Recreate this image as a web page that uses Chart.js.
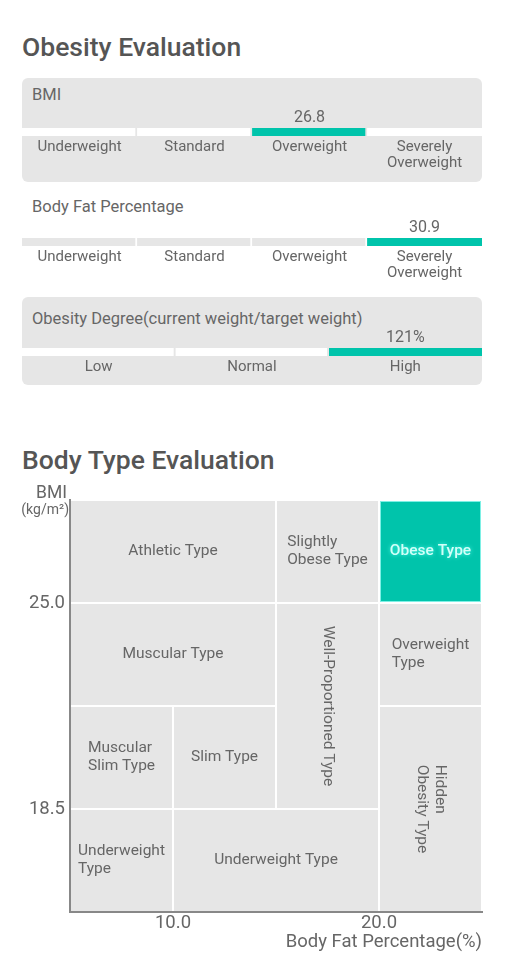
<!DOCTYPE html>
<html>
<head>
<meta charset="utf-8">
<script src="https://cdn.jsdelivr.net/npm/chart.js@4.4.1/dist/chart.umd.min.js"></script>
<style>
  body { margin: 0; background: #fff; font-family: Roboto, sans-serif; color: #666; }
  #page { position: relative; width: 530px; height: 977px; overflow: hidden; }
  h2 { position: absolute; left: 22px; margin: 0; font-size: 26.5px; font-weight: 500; color: #555; line-height: 30px; }
  .box { position: absolute; left: 22px; width: 460px; border-radius: 6px; background: #e6e6e6; }
  .name { position: absolute; left: 32px; font-size: 16.5px; line-height: 18px; color: #666; }
  canvas { position: absolute; left: 22px; }
  #typeChart { left: 0; }
</style>
</head>
<body>
<div id="page">
  <h2 style="top:32px">Obesity Evaluation</h2>

  <div class="box" style="top:78px;height:104px"></div>
  <div class="name" style="top:86px">BMI</div>
  <canvas id="bmiBar" width="460" height="68" style="top:108px"></canvas>

  <div class="name" style="top:198px">Body Fat Percentage</div>
  <canvas id="fatBar" width="460" height="68" style="top:218px"></canvas>

  <div class="box" style="top:297px;height:88px"></div>
  <div class="name" style="top:310px">Obesity Degree(current weight/target weight)</div>
  <canvas id="degreeBar" width="460" height="50" style="top:328px"></canvas>

  <h2 style="top:445px">Body Type Evaluation</h2>
  <canvas id="typeChart" width="530" height="492" style="top:470px"></canvas>
</div>

<script>
// measured values
const bmiValue = 26.8
const fatValue = 30.9
const degreeValue = 121

// level names and where each level starts
const bmiLevels = ['Underweight', 'Standard', 'Overweight', 'Severely\nOverweight']
const bmiLimits = [18.5, 25, 30]
const fatLevels = ['Underweight', 'Standard', 'Overweight', 'Severely\nOverweight']
const fatLimits = [10, 20, 25]
const degreeLevels = ['Low', 'Normal', 'High']
const degreeLimits = [90, 110]

// body type grid
const fatTicks = [10, 20]
const bmiTicks = [18.5, 25]
const bodyTypes = ['Athletic Type', 'Slightly\nObese Type', 'Obese Type', 'Muscular Type', 'Well-Proportioned Type',
  'Overweight\nType', 'Muscular\nSlim Type', 'Slim Type', 'Hidden\nObesity Type', 'Underweight\nType', 'Underweight Type']
const typeFatFrom = [5, 15, 20, 5, 15, 20, 5, 10, 20, 5, 10]
const typeFatTo = [15, 20, 25, 15, 20, 25, 10, 15, 25, 10, 20]
const typeBmiFrom = [25, 25, 25, 21.75, 18.5, 21.75, 18.5, 18.5, 15.25, 15.25, 15.25]
const typeBmiTo = [28.25, 28.25, 28.25, 25, 25, 25, 21.75, 21.75, 21.75, 18.5, 18.5]
const currentType = 'Obese Type'

const TEAL = '#00c4ab'
const GRAY = '#e6e6e6'
const TEXT = '#666'
const FONT = 'Roboto, sans-serif'
const verticalTypes = ['Well-Proportioned Type', 'Hidden\nObesity Type']

function levelOf(value, limits) {
    return limits.filter(l => value >= l).length
}

// text over the highlighted segment
const valueLabel = {
    id: 'valueLabel',
    afterDraw(chart, args, opts) {
        const ctx = chart.ctx
        const x = chart.scales.x.getPixelForValue(opts.level + 0.5)
        ctx.save()
        ctx.font = '16px ' + FONT
        ctx.fillStyle = TEXT
        ctx.textAlign = 'center'
        ctx.textBaseline = 'middle'
        ctx.fillText(opts.text, x, chart.chartArea.top - 10)
        ctx.restore()
    }
}

function drawLevelBar(id, levels, level, text, track, gap, axisHeight) {
    const datasets = levels.map((n, i) => ({
        data: [1],
        backgroundColor: i === level ? TEAL : track,
        borderColor: gap,
        borderWidth: i < levels.length - 1 ? {top: 0, right: 2, bottom: 0, left: 0} : 0,
        borderSkipped: false,
        barPercentage: 1,
        categoryPercentage: 1
    }))
    new Chart(document.getElementById(id), {
        type: 'bar',
        data: {labels: [''], datasets: datasets},
        options: {
            indexAxis: 'y',
            responsive: false,
            animation: false,
            layout: {padding: {top: 20, left: 0, right: 0, bottom: 0}},
            plugins: {legend: {display: false}, tooltip: {enabled: false}, valueLabel: {level: level, text: text}},
            scales: {
                y: {display: false, stacked: true},
                x: {
                    stacked: true, min: 0, max: levels.length,
                    afterBuildTicks: s => { s.ticks = levels.map((_, i) => ({value: i + 0.5})) },
                    afterFit: s => { s.height = axisHeight },
                    grid: {display: false, drawTicks: false},
                    border: {display: false},
                    ticks: {
                        padding: 3, color: TEXT, maxRotation: 0, autoSkip: false,
                        font: {family: FONT, size: 15, lineHeight: 1.07},
                        callback: v => levels[Math.floor(v)].split('\n')
                    }
                }
            }
        },
        plugins: [valueLabel]
    })
}

drawLevelBar('bmiBar', bmiLevels, levelOf(bmiValue, bmiLimits), bmiValue.toFixed(1), '#fff', GRAY, 40)
drawLevelBar('fatBar', fatLevels, levelOf(fatValue, fatLimits), fatValue.toFixed(1), GRAY, '#fff', 40)
drawLevelBar('degreeBar', degreeLevels, levelOf(degreeValue, degreeLimits), degreeValue + '%', '#fff', GRAY, 22)

// cells of the body type grid
const typeCells = {
    id: 'typeCells',
    beforeDatasetsDraw(chart) {
        const {ctx, scales: {x, y}} = chart
        bodyTypes.forEach((name, i) => {
            const l = x.getPixelForValue(typeFatFrom[i])
            const r = x.getPixelForValue(typeFatTo[i])
            const t = y.getPixelForValue(typeBmiTo[i])
            const b = y.getPixelForValue(typeBmiFrom[i])
            const hit = name === currentType
            ctx.save()
            ctx.fillStyle = hit ? TEAL : GRAY
            ctx.fillRect(l + 1, t + 1, r - l - 2, b - t - 2)
            if (hit) {
                ctx.strokeStyle = 'rgba(140,245,235,0.9)'
                ctx.lineWidth = 1
                ctx.strokeRect(l + 1.5, t + 1.5, r - l - 3, b - t - 3)
            }
            // label block centred, lines left aligned
            const lines = name.split('\n')
            ctx.font = (hit ? '500 ' : '') + '15.5px ' + FONT
            ctx.fillStyle = hit ? '#d2fff8' : TEXT
            if (hit) {
                ctx.shadowColor = 'rgba(90,255,240,0.9)'
                ctx.shadowBlur = 4
            }
            ctx.textAlign = 'left'
            ctx.textBaseline = 'middle'
            ctx.translate((l + r) / 2, (t + b) / 2)
            if (verticalTypes.includes(name)) ctx.rotate(Math.PI / 2)
            const w = Math.max(...lines.map(s => ctx.measureText(s).width))
            lines.forEach((s, k) => {
                ctx.fillText(s, -w / 2, (k - (lines.length - 1) / 2) * 18)
            })
            ctx.restore()
        })
        // axis unit on top of the BMI axis
        ctx.save()
        ctx.fillStyle = TEXT
        ctx.textAlign = 'right'
        ctx.textBaseline = 'middle'
        ctx.font = '17.5px ' + FONT
        ctx.fillText('BMI', chart.chartArea.left - 3, chart.chartArea.top - 6)
        ctx.font = '14px ' + FONT
        ctx.fillText('(kg/m²)', chart.chartArea.left - 1, chart.chartArea.top + 10)
        ctx.restore()
    }
}

new Chart(document.getElementById('typeChart'), {
    type: 'scatter',
    data: {datasets: []},
    options: {
        responsive: false,
        animation: false,
        layout: {padding: {top: 30, right: 48, left: 0, bottom: 0}},
        plugins: {legend: {display: false}, tooltip: {enabled: false}},
        scales: {
            x: {
                type: 'linear', min: 5, max: 25,
                afterBuildTicks: s => { s.ticks = fatTicks.map(v => ({value: v})) },
                afterFit: s => { s.height = 50 },
                grid: {display: false, drawTicks: false},
                border: {display: true, color: '#888', width: 2},
                ticks: {padding: 0, color: TEXT, maxRotation: 0, autoSkip: false,
                    font: {family: FONT, size: 18.5}, callback: v => v.toFixed(1)},
                title: {display: true, text: 'Body Fat Percentage(%)', align: 'end', color: TEXT,
                    font: {family: FONT, size: 18.5}, padding: {top: 0, bottom: 9}}
            },
            y: {
                type: 'linear', min: 15.25, max: 28.25,
                afterBuildTicks: s => { s.ticks = bmiTicks.map(v => ({value: v})) },
                afterFit: s => { s.width = 70 },
                grid: {display: false, drawTicks: false},
                border: {display: true, color: '#888', width: 2},
                ticks: {padding: 5, color: TEXT, autoSkip: false,
                    font: {family: FONT, size: 18.5}, callback: v => v.toFixed(1)}
            }
        }
    },
    plugins: [typeCells]
})
</script>
</body>
</html>
